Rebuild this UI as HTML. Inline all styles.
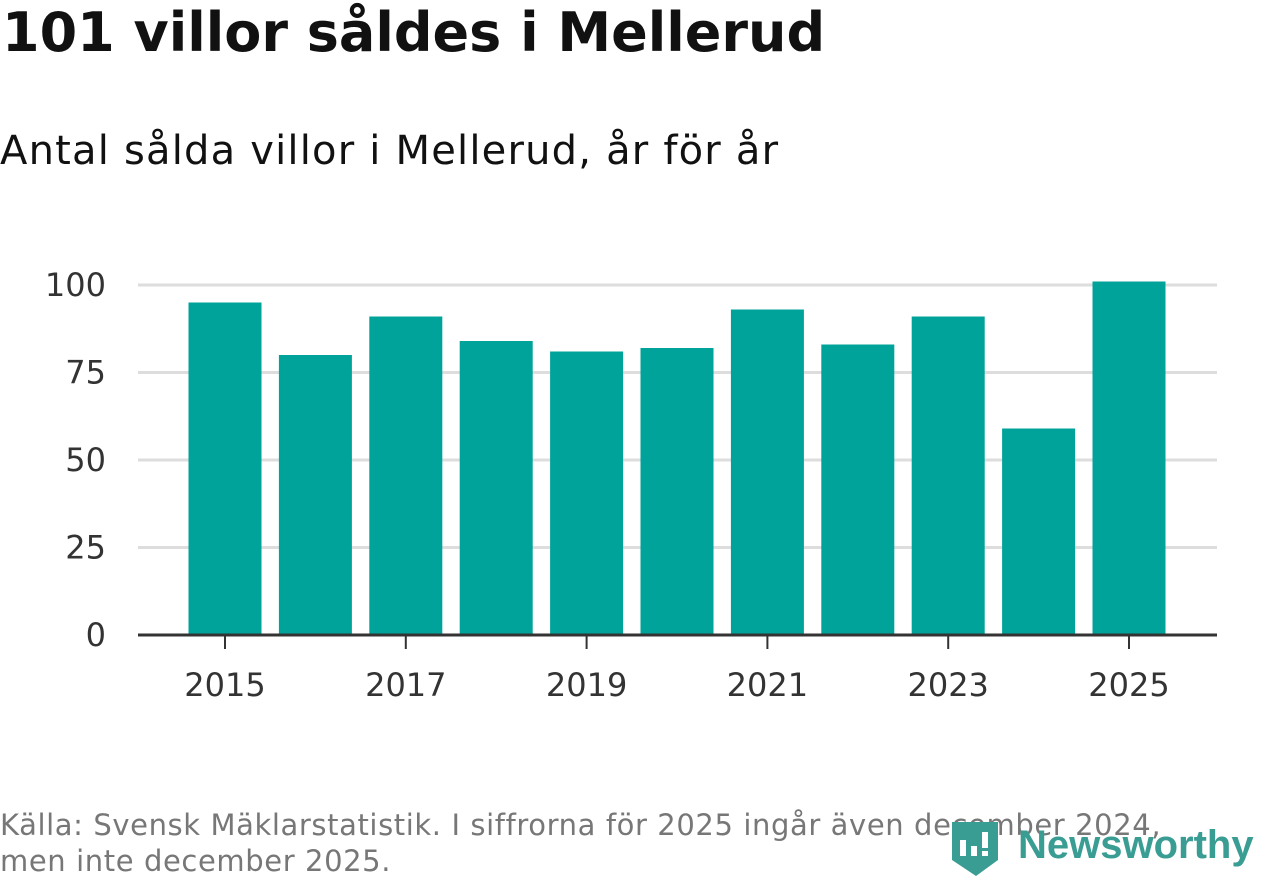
<!DOCTYPE html>
<html><head><meta charset="utf-8"><style>
body{margin:0;width:1262px;height:879px;background:#fff;font-family:"DejaVu Sans","Liberation Sans",sans-serif;overflow:hidden;position:relative}
#title{position:absolute;left:2px;top:1px;font-size:54px;font-weight:bold;color:#111;margin:0;letter-spacing:0px}
#sub{position:absolute;left:0;top:128px;font-size:40px;color:#111;letter-spacing:1.2px}
#foot{position:absolute;left:0;top:807px;font-size:29px;color:#777;line-height:36px;letter-spacing:0.6px;white-space:nowrap}
#logo{position:absolute;left:950px;top:818px}
</style></head><body>
<h1 id="title">101 villor såldes i Mellerud</h1>
<div id="sub">Antal sålda villor i Mellerud, år för år</div>
<svg id="chart" width="1262" height="879" style="position:absolute;left:0;top:0"></svg>
<div id="foot">Källa: Svensk Mäklarstatistik. I siffrorna för 2025 ingår även december 2024,<br>men inte december 2025.</div>
<svg id="logo" width="312" height="62">
<path d="M2 4 H48 V42 L26 58 L2 42 Z" fill="#3a9d94"/>
<rect x="10" y="22" width="6" height="16" fill="#fff"/><rect x="21" y="28" width="6" height="10" fill="#fff"/><rect x="32" y="14" width="6" height="16" fill="#fff"/><rect x="32" y="33" width="6" height="5" fill="#fff"/>
<text x="68" y="40" font-family="Liberation Sans,sans-serif" font-weight="bold" font-size="40" fill="#3a9d94">Newsworthy</text>
</svg>
<script>
const years=[2015,2016,2017,2018,2019,2020,2021,2022,2023,2024,2025];
const values=[95,80,91,84,81,82,93,83,91,59,101];
const yTicks=[0,25,50,75,100];
const xTickLabels=[2015,2017,2019,2021,2023,2025];
const svg=document.getElementById('chart');const NS='http://www.w3.org/2000/svg';
const ax0=138,ax1=1217,yBase=635,pxPer=3.5;
const b0=179.8,b1=1174.2;
const step=(b1-b0)/years.length;
const xs=i=>b0+step*(i+0.5);
const ys=v=>yBase-v*pxPer;
function mk(t,a){const e=document.createElementNS(NS,t);for(const k in a)e.setAttribute(k,a[k]);svg.appendChild(e);return e;}
yTicks.forEach(v=>{
 if(v>0){const l=mk('line',{x1:ax0,x2:ax1,y1:ys(v),y2:ys(v),stroke:'#ddd','stroke-width':3});
 
 }
 const t=mk('text',{x:106,y:ys(v)+11,'text-anchor':'end','font-size':32,fill:'#333','font-family':'DejaVu Sans,sans-serif'});t.textContent=v;
 
 
});
years.forEach((y,i)=>{
 const r=mk('rect',{x:xs(i)-36.5,y:ys(values[i]),width:73,height:values[i]*pxPer,fill:'#00a39a'});
 
 
 if(xTickLabels.includes(y)){
  const tk=mk('line',{x1:xs(i),x2:xs(i),y1:yBase,y2:yBase+14,stroke:'#333','stroke-width':2});
  
  
  const t=mk('text',{x:xs(i),y:696,'text-anchor':'middle','font-size':32,fill:'#333','font-family':'DejaVu Sans,sans-serif'});t.textContent=y;
  
  
 }
});
const ax=mk('line',{x1:ax0,x2:ax1,y1:yBase,y2:yBase,stroke:'#333','stroke-width':3});


</script>
</body></html>
